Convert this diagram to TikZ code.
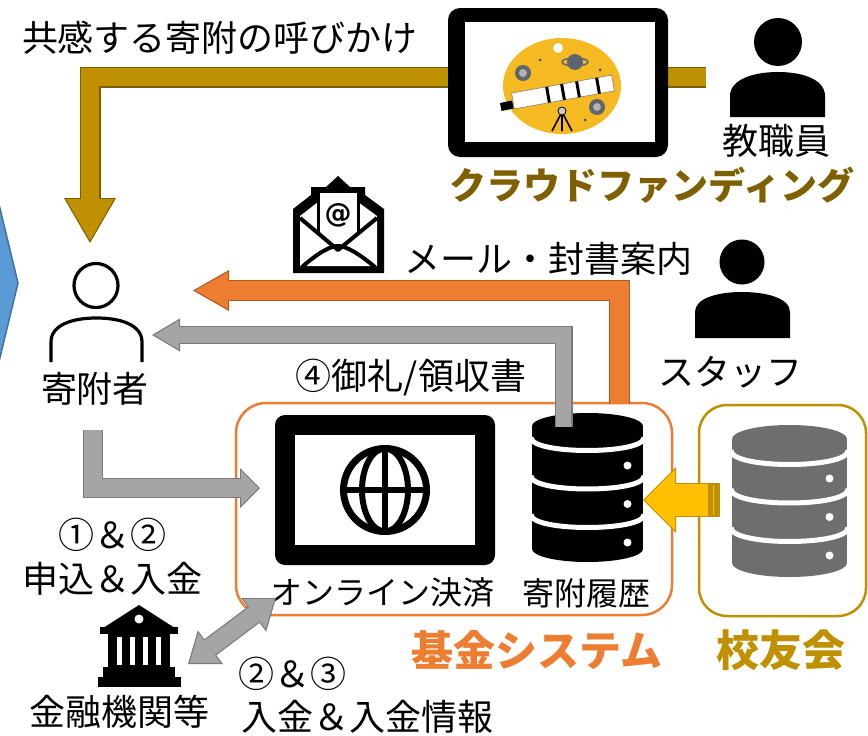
\documentclass[tikz,border=0pt]{standalone}
\usepackage{fontspec}
\usetikzlibrary{arrows.meta}
\newfontfamily\jp{Noto Sans CJK JP}
\newfontfamily\dv{DejaVu Sans}

\definecolor{goldF}{HTML}{BF9000}
\definecolor{goldL}{HTML}{7F6000}
\definecolor{cfText}{HTML}{7F6000}
\definecolor{orangeF}{HTML}{ED7D31}
\definecolor{orangeL}{HTML}{AE5A21}
\definecolor{grayF}{HTML}{A5A5A5}
\definecolor{grayL}{HTML}{7A7A7A}
\definecolor{yellowF}{HTML}{FFC000}
\definecolor{blueF}{HTML}{5B9BD5}
\definecolor{blueL}{HTML}{41719C}
\definecolor{diskY}{HTML}{F5B921}
\definecolor{dbGray}{HTML}{6E6E6E}
\definecolor{planetG}{HTML}{5E6470}

\tikzset{
  txt/.style={inner sep=0pt, font=\jp\fontsize{36}{40}\selectfont},
  txtsm/.style={inner sep=0pt, font=\jp\fontsize{32}{36}\selectfont},
  ttl/.style={inner sep=0pt, font=\jp\bfseries\fontsize{#1}{#1}\selectfont},
}

% block arrow with a thin outline: fill, outline, shaft width, head width, head length, path
\newcommand\BlockArrow[6]{%
  \pgfmathsetmacro\baIn{#3-2.4}%
  \pgfmathsetmacro\baAng{atan(#4/(2*#5))}%
  \pgfmathsetmacro\baShift{1.2/sin(\baAng)}%
  \pgfmathsetmacro\baLen{#5-\baShift-1.2}%
  \pgfmathsetmacro\baWid{2*\baLen*tan(\baAng)}%
  \draw[line width=#3pt,draw=#2,-{Triangle[length=#5pt,width=#4pt,line width=0pt,fill=#2]}] #6;%
  \draw[line width=\baIn pt,draw=#1,shorten >=\baShift pt,-{Triangle[length=\baLen pt,width=\baWid pt,line width=0pt,fill=#1]}] #6;%
}
% same, with a head at both ends
\newcommand\BlockArrowBoth[6]{%
  \pgfmathsetmacro\baIn{#3-2.4}%
  \pgfmathsetmacro\baAng{atan(#4/(2*#5))}%
  \pgfmathsetmacro\baShift{1.2/sin(\baAng)}%
  \pgfmathsetmacro\baLen{#5-\baShift-1.2}%
  \pgfmathsetmacro\baWid{2*\baLen*tan(\baAng)}%
  \draw[line width=#3pt,draw=#2,{Triangle[length=#5pt,width=#4pt,line width=0pt,fill=#2]}-{Triangle[length=#5pt,width=#4pt,line width=0pt,fill=#2]}] #6;%
  \draw[line width=\baIn pt,draw=#1,shorten >=\baShift pt,shorten <=\baShift pt,{Triangle[length=\baLen pt,width=\baWid pt,line width=0pt,fill=#1]}-{Triangle[length=\baLen pt,width=\baWid pt,line width=0pt,fill=#1]}] #6;%
}
% database cylinder: centre x, top centre y, x radius, y radius, bottom centre y, colour
\newcommand\DBicon[6]{%
  \fill[#6] (#1,#2) ellipse [x radius=#3pt, y radius=#4pt];
  \fill[#6] ({#1-#3},#2) rectangle ({#1+#3},#5);
  \fill[#6] (#1,#5) ellipse [x radius=#3pt, y radius=#4pt];
  \foreach \k in {0,1,2}{%
    \pgfmathsetmacro\yb{#2+11.5+38.5*\k}%
    \draw[white,line width=5pt] ({#1-#3-1},\yb) .. controls ({#1-#3-1},{\yb+1.333*#4}) and ({#1+#3+1},{\yb+1.333*#4}) .. ({#1+#3+1},\yb);
    \fill[white] ({#1+40},{\yb+28}) circle (4pt);
  }%
}

\begin{document}
\begin{tikzpicture}[x=1pt,y=-1pt]
\useasboundingbox (0,0) rectangle (868,736);
\fill[white] (0,0) rectangle (868,736);

% blue chevron at the left edge
\filldraw[fill=blueF, draw=blueL, line width=1.5pt] (-3,196) -- (18,283) -- (-3,370) -- cycle;

% crowdfunding appeal arrow
\coordinate (cfTail) at (706,77);
\coordinate (donorHead) at (90,243);
\BlockArrow{goldF}{goldL}{21}{52}{45}{(cfTail) -| (donorHead)}
\node[txt] (appeal) at (220,38) {共感する寄附の呼びかけ};

% laptop showing the telescope project
\fill[black, rounded corners=12pt] (448,8) rectangle (668,157);
\fill[white] (465,22) rectangle (655,142);
\fill[diskY] (562,86) ellipse [x radius=59pt, y radius=48pt];
\fill[white] (558,48) circle (5pt);
\fill[planetG] (523,73) circle (8pt);
\fill[gray!60] (523,73) circle (4pt);
\fill[planetG] (575,62) circle (8pt);
\draw[planetG, line width=1.5pt] (575,62) ellipse [x radius=13pt, y radius=4pt];
\fill[planetG] (597,107) circle (8pt);
\fill[gray!60] (597,107) circle (4pt);
\fill[black!70] (540,60) circle (1.5pt) (600,70) circle (1.5pt) (530,98) circle (1.5pt) (585,120) circle (1.5pt);
\filldraw[fill=white, draw=gray, line width=0.6pt] (511.6,93.1) -- (611.6,75.1) -- (614.4,90.9) -- (514.4,108.9) -- cycle;
\draw[black, line width=3pt] (546.6,86.8) -- (549.4,102.6) (561.6,84.1) -- (564.4,99.9) (576.6,81.4) -- (579.4,97.2) (596.6,77.8) -- (599.4,93.6);
\fill[black] (500,103) -- (512,100.5) -- (513.5,108.5) -- (501.5,111) -- cycle;
\draw[black, line width=1.6pt] (562,112) -- (552,131) (562,112) -- (572,131) (562,112) -- (562,131);
\filldraw[fill=gray!40, draw=black, line width=0.8pt] (562,111) circle (4pt);

% teaching staff
\fill (778,42) circle (24pt);
\fill (730,117) -- (730,96) .. controls (730,80) and (752,72) .. (778,72) .. controls (804,72) and (825,80) .. (825,96) -- (825,117) -- cycle;
\node[txt] (teacherLbl) at (776,141) {教職員};
\node[ttl=37, text=cfText] (cfLbl) at (652,185) {クラウドファンディング};

% mail icon
\fill (293,209) -- (311,195) -- (311,187) -- (326,187) -- (338,176) -- (350,187) -- (365,187) -- (365,195) -- (384,209) -- (384,273) -- (293,273) -- cycle;
\fill[white] (300,216) -- (318,202) -- (358,202) -- (377,216) -- (377,266) -- (300,266) -- cycle;
\fill[white] (318,193) rectangle (358,240);
\draw[line width=3pt] (318,192) -- (318,234) (358,192) -- (358,234);
\draw[line width=4pt, line join=round] (300,218) -- (338,250) -- (377,218);
\draw[line width=4pt] (302,267) .. controls (318,253) and (330,246) .. (338,246) .. controls (346,246) and (358,253) .. (375,267);
\node[inner sep=0pt, font=\dv\bfseries\fontsize{27}{27}\selectfont] (atSign) at (338,215) {@};
\node[txt] (mailLbl) at (548,259) {メール・封書案内};

% office staff
\fill (742,262) circle (22.5pt);
\fill (695,338) -- (695,312) .. controls (695,298) and (718,292) .. (742,292) .. controls (766,292) and (790,298) .. (790,312) -- (790,338) -- cycle;
\node[txt] (staffLbl) at (730,372) {スタッフ};

% donor
\draw[line width=3.2pt] (96,285.5) circle (22pt);
\draw[line width=3.2pt] (51,362) -- (51,342) .. controls (51,325) and (72,318) .. (96.5,318) .. controls (121,318) and (142,325) .. (142,342) -- (142,362);
\node[txt] (donorLbl) at (95,389) {寄附者};
\node[txt] (thanksLbl) at (411,377) {④御礼/領収書};

% fund system and alumni association frames
\draw[orangeF, line width=2.5pt, rounded corners=30pt] (236,403) rectangle (672,615);
\draw[goldF, line width=2.5pt, rounded corners=28pt] (699,405) rectangle (866,616);

% online payment screen
\fill[rounded corners=10pt] (275,415) rectangle (495,565);
\fill[white] (295,435) rectangle (475,545);
\draw[line width=7pt] (385,490) circle (41.5pt);
\draw[line width=6pt] (385,490) ellipse [x radius=23pt, y radius=41.5pt];
\draw[line width=6pt] (344,490) -- (426,490) (385,449) -- (385,531);
\node[txtsm] (payLbl) at (382,592) {オンライン決済};

% donation history database
\DBicon{587.5}{426}{55.5}{13}{549}{black}
\node[txtsm] (histLbl) at (586,593) {寄附履歴};
\node[ttl=42, text=orangeF] (fundLbl) at (537,650) {基金システム};

% alumni database
\DBicon{789.5}{439}{57.5}{14}{563}{dbGray}
\node[ttl=43, text=goldF] (alumLbl) at (781,650) {校友会};

% mail / letter notice arrow
\coordinate (dbMail) at (619.5,404);
\coordinate (mailTip) at (193,290.5);
\BlockArrow{orangeF}{orangeL}{21}{41}{36}{(dbMail) |- (mailTip)}

% thanks / receipt arrow
\coordinate (dbThanks) at (563.5,427);
\coordinate (thanksTip) at (152,335);
\BlockArrow{grayF}{grayL}{18}{33}{28}{(dbThanks) |- (thanksTip)}

% application and payment arrow
\coordinate (donorOut) at (93,430);
\coordinate (payIn) at (260,488);
\BlockArrow{grayF}{grayL}{20}{40}{20}{(donorOut) |- (payIn)}
\node[txt] (step12) at (112,535) {①＆②};
\node[txt] (apply) at (113,579) {申込＆入金};

% alumni data arrow
\coordinate (alumOut) at (719,500);
\coordinate (dbIn) at (643,500);
\BlockArrow{yellowF}{goldF}{34}{66}{33}{(alumOut) -- (dbIn)}
\fill[goldF] (708,483) rectangle (720,517);
\draw[yellowF, line width=1pt] (713.5,485) -- (713.5,515);

% bank
\fill (100,630) -- (139,605) -- (178,630) -- cycle;
\fill (100,627) rectangle (178,634);
\fill[white] (139,619) circle (4.5pt);
\fill (108,633) rectangle (170,669);
\foreach \x in {117,130,143,156}{\fill[white] (\x,637) rectangle ({\x+5},665);}
\fill (103,667) rectangle (175,677);
\fill (98,677) rectangle (181,687);
\node[txt] (bankLbl) at (120,712) {金融機関等};

% bank settlement arrow
\coordinate (bankEnd) at (188,664);
\coordinate (payEnd) at (276,598);
\BlockArrowBoth{grayF}{grayL}{20}{42}{28}{(bankEnd) -- (payEnd)}
\node[txt] (step23) at (292,674) {②＆③};
\node[txt] (payInfo) at (367,717) {入金＆入金情報};
\end{tikzpicture}
\end{document}
